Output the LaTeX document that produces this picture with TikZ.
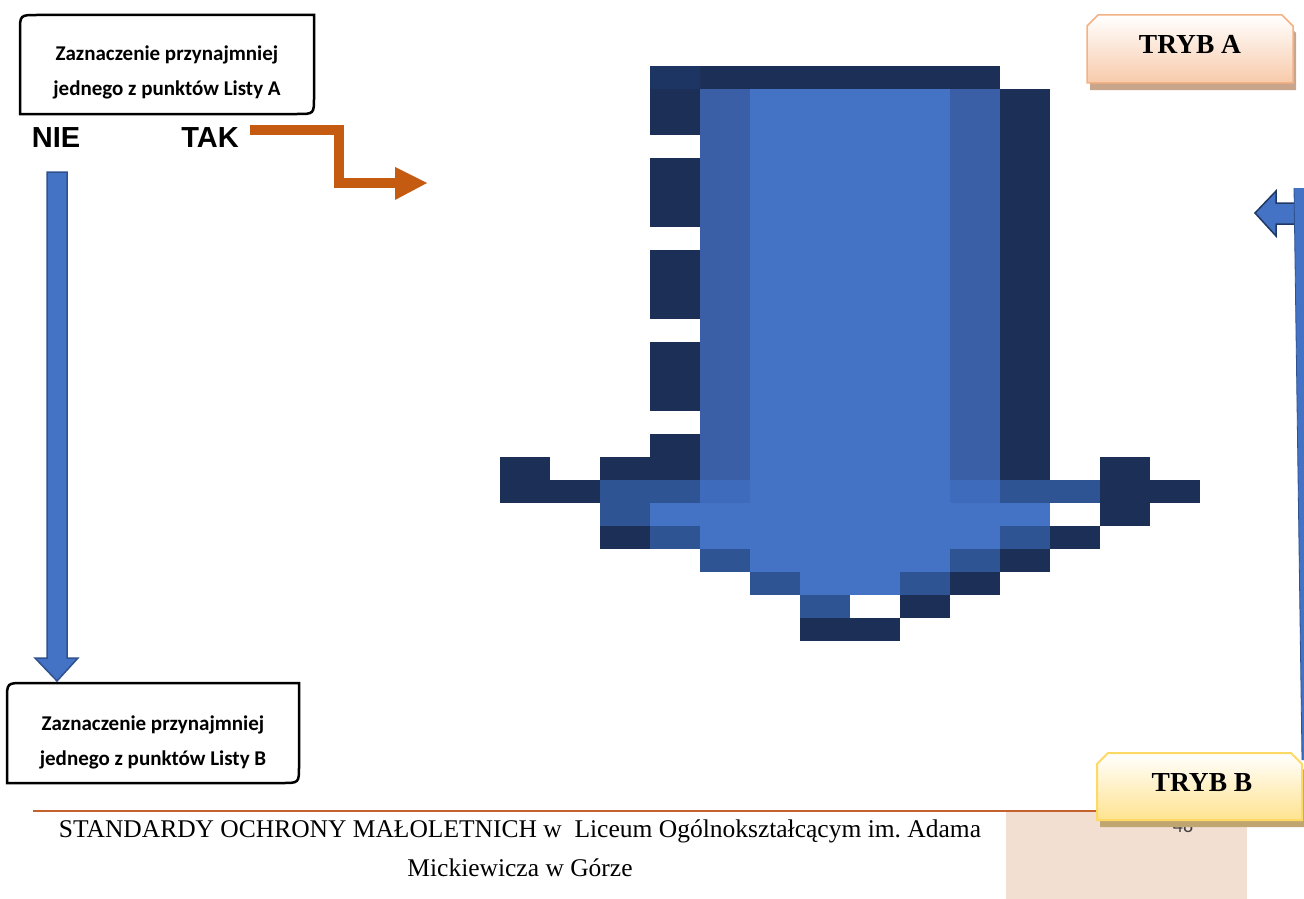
\documentclass[tikz,border=0pt]{standalone}
\usepackage{fontspec}
\setmainfont{Liberation Serif}
\newfontfamily\carlitofont{Carlito}
\newfontfamily\arialfont{Liberation Sans}
\definecolor{pixdark}{HTML}{1B2F57}
\definecolor{pixdarkb}{HTML}{1D3562}
\definecolor{pixmed}{HTML}{3A5FA7}
\definecolor{pixmid}{HTML}{2F5494}
\definecolor{pixlm}{HTML}{3F6BBD}
\definecolor{pixlight}{HTML}{4472C4}
\definecolor{arrblue}{HTML}{4472C4}
\definecolor{arrline}{HTML}{2F528F}
\definecolor{arrdark}{HTML}{1F3864}
\definecolor{orangec}{HTML}{C55A11}
\definecolor{footline}{HTML}{C4612C}
\definecolor{peach}{HTML}{F3DED2}
\definecolor{tryAline}{HTML}{F4B183}
\definecolor{tryAfill}{HTML}{F8CAAA}
\definecolor{tryAshadow}{HTML}{C9A58C}
\definecolor{tryBline}{HTML}{FFD966}
\definecolor{tryBfill}{HTML}{FFE38F}
\definecolor{tryBshadow}{HTML}{BFA56F}
\definecolor{pagegray}{HTML}{404040}
\newcommand\pxrow[4]{\fill[#4] ({500+50*(#1)},{66+23*(#3)}) rectangle ({550+50*(#2)},{89+23*(#3)});}
\newcommand\pxcol[4]{\fill[#4] ({500+50*(#1)},{66+23*(#2)}) rectangle ({550+50*(#1)},{89+23*(#3)});}
\begin{document}
\begin{tikzpicture}[x=1pt,y=-1pt,
  listbox/.style={draw=black,line width=2.5pt,fill=white},
  listtext/.style={align=center,font=\carlitofont\bfseries\fontsize{21}{35}\selectfont,inner sep=0pt},
  yesno/.style={font=\arialfont\bfseries\fontsize{29}{30}\selectfont,inner sep=0pt,anchor=base},
  trybtext/.style={font=\bfseries\fontsize{27.5}{30}\selectfont,inner sep=0pt},
  foottext/.style={font=\fontsize{25.5}{30}\selectfont,inner sep=0pt,anchor=base},
  blockarrow/.style={fill=arrblue,draw=arrline,line width=1.5pt,line join=miter}]
\useasboundingbox (0,0) rectangle (1304,899);

% ---- big pixelated arrow ----
\fill[pixdarkb] (650,66) rectangle (700,89);
\pxrow{4}{9}{0}{pixdark}
\pxcol{3}{1}{2}{pixdark}
\pxcol{3}{4}{6}{pixdark}
\pxcol{3}{8}{10}{pixdark}
\pxcol{3}{12}{14}{pixdark}
\pxcol{3}{16}{17}{pixdark}
\pxcol{4}{1}{17}{pixmed}
\pxcol{9}{1}{17}{pixmed}
\pxcol{10}{1}{17}{pixdark}
\fill[pixlight] (750,89) rectangle (950,503);
% row 17
\pxrow{0}{0}{17}{pixdark}
\pxrow{2}{2}{17}{pixdark}
\pxrow{12}{12}{17}{pixdark}
% row 18
\pxrow{0}{1}{18}{pixdark}
\pxrow{2}{3}{18}{pixmid}
\pxrow{4}{4}{18}{pixlm}
\pxrow{9}{9}{18}{pixlm}
\pxrow{10}{11}{18}{pixmid}
\pxrow{12}{13}{18}{pixdark}
% row 19
\pxrow{2}{2}{19}{pixmid}
\pxrow{3}{10}{19}{pixlight}
\pxrow{12}{12}{19}{pixdark}
% row 20
\pxrow{2}{2}{20}{pixdark}
\pxrow{3}{3}{20}{pixmid}
\pxrow{4}{9}{20}{pixlight}
\pxrow{10}{10}{20}{pixmid}
\pxrow{11}{11}{20}{pixdark}
% row 21
\pxrow{4}{4}{21}{pixmid}
\pxrow{5}{8}{21}{pixlight}
\pxrow{9}{9}{21}{pixmid}
\pxrow{10}{10}{21}{pixdark}
% row 22
\pxrow{5}{5}{22}{pixmid}
\pxrow{6}{7}{22}{pixlight}
\pxrow{8}{8}{22}{pixmid}
\pxrow{9}{9}{22}{pixdark}
% row 23
\pxrow{6}{6}{23}{pixmid}
\pxrow{8}{8}{23}{pixdark}
% row 24
\pxrow{6}{7}{24}{pixdark}

% ---- List A box ----
\draw[listbox] (20,114) -- (20,32) .. controls (20,15) .. (37,15) -- (314,15) -- (314,97) .. controls (314,114) .. (297,114) -- cycle;
\node[listtext] (listA) at (167,72) {Zaznaczenie przynajmniej\\jednego z punktów Listy A};

% ---- NIE / TAK ----
\node[yesno] (nie) at (56,147) {NIE};
\node[yesno] (tak) at (210,147) {TAK};

% ---- orange connector ----
\coordinate (orStart) at (250,130);
\coordinate (orEnd) at (427,183);
\draw[orangec,line width=10pt] (orStart) -- (338.5,130) -- (338.5,183) -- (396,183);
\fill[orangec] (395,167) -- (orEnd) -- (395,200) -- cycle;

% ---- blue down arrow NIE -> List B ----
\draw[blockarrow] (47,172) -- (67,172) -- (67,658) -- (78,658) -- (57,681) -- (35,658) -- (47,658) -- cycle;

% ---- List B box ----
\draw[listbox] (7,783) -- (7,700) .. controls (7,683) .. (24,683) -- (299,683) -- (299,766) .. controls (299,783) .. (282,783) -- cycle;
\node[listtext] (listB) at (153,742) {Zaznaczenie przynajmniej\\jednego z punktów Listy B};

% ---- right bent arrow (TRYB B -> up -> left) ----
\draw[fill=arrblue,draw=arrdark,line width=1.5pt,line join=miter] (1255,213) -- (1276,191) -- (1276,203) -- (1296,203) -- (1296,224) -- (1276,224) -- (1276,236) -- cycle;
\fill[arrblue] (1294,188) -- (1310,188) -- (1310,760) -- (1302,760) -- cycle;
\draw[arrline,line width=0.8pt] (1294,188) -- (1302,760);

% ---- TRYB A ----
\fill[tryAshadow,shift={(3,7)}] (1087,83) -- (1087,26) -- (1098,15) -- (1282,15) -- (1293,26) -- (1293,83) -- cycle;
\shade[top color=white,bottom color=tryAfill] (1087,83) -- (1087,26) -- (1098,15) -- (1282,15) -- (1293,26) -- (1293,83) -- cycle;
\draw[tryAline,line width=1.5pt] (1087,83) -- (1087,26) -- (1098,15) -- (1282,15) -- (1293,26) -- (1293,83) -- cycle;
\node[trybtext] (trybA) at (1190,44) {TRYB A};

% ---- footer ----
\fill[peach] (1006,812) rectangle (1247,899);
\draw[footline,line width=2pt] (33,810.5) -- (1250,810.5);
\node[font=\carlitofont\fontsize{20}{22}\selectfont,text=pagegray,inner sep=0pt] (page) at (1183,826) {48};
\node[foottext] (foot1) at (520,837) {STANDARDY OCHRONY MAŁOLETNICH w\ \ Liceum Ogólnokształcącym im.\ Adama};
\node[foottext] (foot2) at (520,876) {Mickiewicza w Górze};

% ---- TRYB B ----
\fill[tryBshadow,shift={(3,7)}] (1097,820) -- (1097,764) -- (1108,753) -- (1291,753) -- (1302,764) -- (1302,820) -- cycle;
\shade[top color=white,bottom color=tryBfill] (1097,820) -- (1097,764) -- (1108,753) -- (1291,753) -- (1302,764) -- (1302,820) -- cycle;
\draw[tryBline,line width=2pt] (1097,820) -- (1097,764) -- (1108,753) -- (1291,753) -- (1302,764) -- (1302,820) -- cycle;
\node[trybtext] (trybB) at (1202,783) {TRYB B};
\end{tikzpicture}
\end{document}
